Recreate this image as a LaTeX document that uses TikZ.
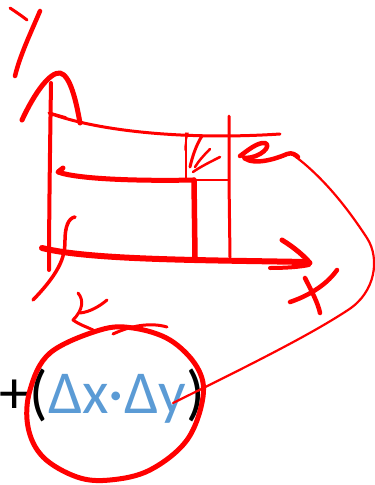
\documentclass[tikz,border=0pt]{standalone}
\usepackage{fontspec}
\setmainfont{Carlito}
\definecolor{inkred}{RGB}{255,0,0}
\definecolor{txtblue}{RGB}{91,155,213}
\begin{document}
\begin{tikzpicture}[x=1pt,y=-1pt,
  ink/.style={draw=inkred,line cap=round,line join=round,line width=#1},
  ink/.default=4]
\useasboundingbox (0,0) rectangle (375,485);
% formula text
\node[anchor=base west,inner sep=0pt,font=\fontsize{61}{61}\selectfont] (formula) at (-1,413)
  {+(\textcolor{txtblue}{Δx·Δy})};
% y label
\draw[ink=3] (10,8) .. controls (16,12) and (22,16) .. (27,20);
\draw[ink=4.5] (40,11) .. controls (32,30) and (20,55) .. (15,76);
% y arrow head
\draw[ink=5] (22,120) .. controls (35,92) and (50,72) .. (60,73) .. controls (70,75) and (76,100) .. (80,123);
% y axis
\draw[ink=4] (51,83) .. controls (50,150) and (49,220) .. (49,270);
% x axis
\draw[ink=6] (42,248) .. controls (90,260) and (200,260) .. (306,262);
\draw[ink=5] (282,240) .. controls (295,248) and (304,256) .. (310,263);
\draw[ink=4] (270,268) .. controls (285,268) and (300,267) .. (309,265);
% x label
\draw[ink=4.5] (305,278) .. controls (312,292) and (318,303) .. (320,313);
\draw[ink=4.5] (337,270) .. controls (325,287) and (305,297) .. (290,302);
% top curved line
\draw[ink=3] (49,113) .. controls (100,132) and (190,140) .. (280,134);
\draw[ink=1.5] (52,113) -- (66,117);
% middle thick line
\draw[ink=5] (63,168) -- (58,172) .. controls (80,180) and (150,181) .. (194,180);
% verticals
\draw[ink=5.5] (194,180) -- (195,257);
\draw[ink=3] (229,116) -- (229,180) -- (230,257);
\draw[ink=1.5] (186,133) -- (186,178);
\draw[ink=2.5] (194,180) -- (229,180);
% hatching
\draw[ink=3] (202,136) .. controls (196,145) and (192,158) .. (190,167);
\draw[ink=2.5] (210,149) .. controls (203,156) and (198,162) .. (195,167);
\draw[ink=2.5] (220,157) .. controls (210,162) and (200,167) .. (193,172);
\draw[ink=1.5] (188,133) .. controls (186,140) and (185,145) .. (185,150);
% left squiggle
\draw[ink=3.5] (75,217) .. controls (68,218) and (65,228) .. (65,240) .. controls (65,255) and (62,270) .. (33,300);
% small x below
\draw[ink=3] (78,293) .. controls (84,300) and (83,310) .. (73,320) .. controls (80,325) and (87,327) .. (93,330);
\draw[ink=3] (107,300) .. controls (100,306) and (90,312) .. (80,313);
% e and connector
\draw[ink=4.5] (240,156) .. controls (248,150) and (258,142) .. (265,143) .. controls (272,145) and (262,158) .. (244,158) .. controls (255,166) and (278,158) .. (287,154) .. controls (292,152) and (296,155) .. (298,157);
\draw[ink=2.2] (292,154) .. controls (325,178) and (350,212) .. (367,238) .. controls (380,258) and (376,292) .. (348,310) .. controls (310,335) and (250,365) .. (173,403);
% circle
\draw[ink=5] plot[smooth cycle,tension=0.6] coordinates {(100,330) (50,353) (30,390) (28,427) (43,457) (77,477) (110,480) (150,470) (187,440) (203,397) (197,367) (170,340) (133,328)};
\draw[ink=3] (113,334) .. controls (130,326) and (150,322) .. (167,327);
\end{tikzpicture}
\end{document}
